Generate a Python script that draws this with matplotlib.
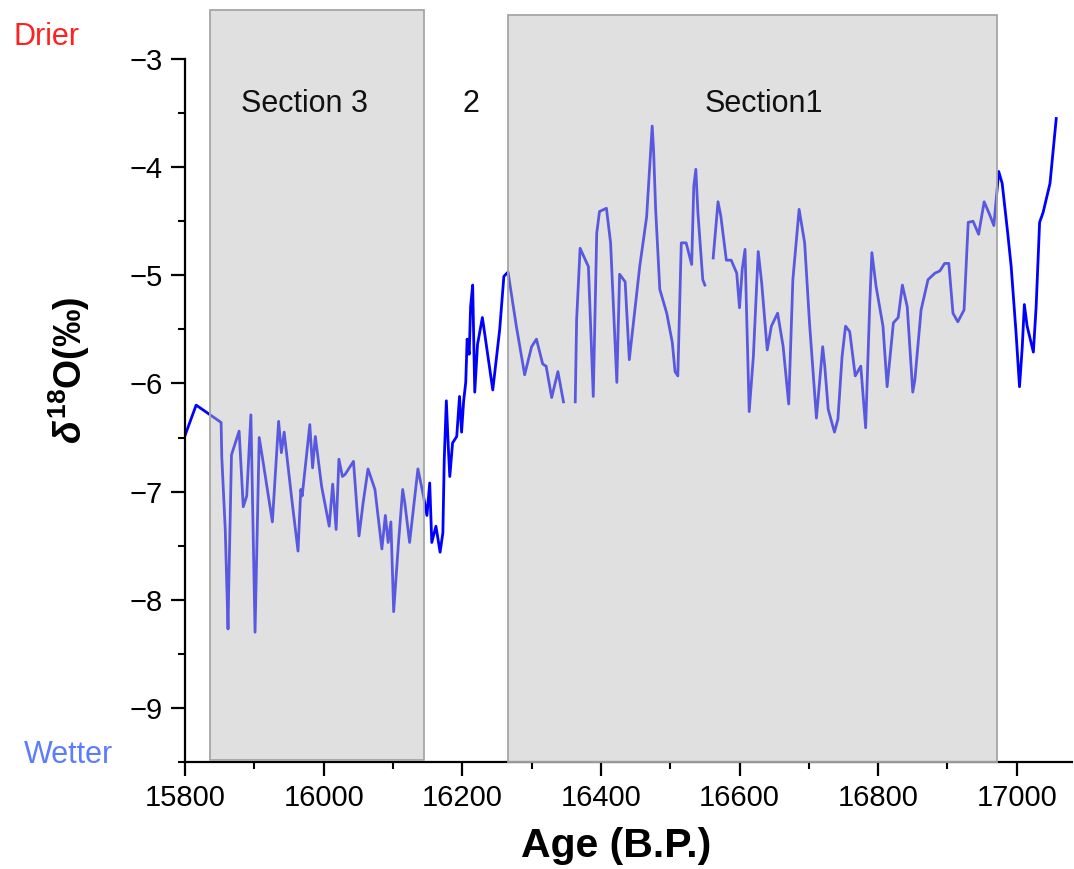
import matplotlib.pyplot as plt
from matplotlib.patches import Rectangle
import numpy as np

plt.rcParams['font.family'] = ['Liberation Sans', 'DejaVu Sans']
plt.rcParams['mathtext.fontset'] = 'custom'
plt.rcParams['mathtext.rm'] = 'Liberation Sans:bold'
plt.rcParams['mathtext.it'] = 'Liberation Sans:bold:italic'
plt.rcParams['mathtext.bf'] = 'Liberation Sans:bold'

##### data (NaN = gap in record) #####
age = [15800, 15816, 15852, 15853, 15858, 15862, 15863, 15867, 15878, 15884,
       15889, 15895, 15901, 15907, 15912, 15926, 15935, 15939, 15943, 15954,
       15963, 15967, 15969, 15980, 15984, 15988, 15997, 16008, 16013, 16018,
       16022, 16027, 16031, 16043, 16051, 16057, 16064, 16074, 16084, 16089,
       16093, 16097, 16101, 16108, 16114, 16117, 16124, 16136, 16144,
       16149, 16153, 16156, 16162, 16168, 16172, 16174, 16177, 16180, 16182,
       16186, 16192, 16196, 16199, 16202, 16205, 16207, 16210, 16212, 16215,
       16218, 16222, 16229, 16244, 16254, 16260, 16266,
       16278, 16290, 16300, 16307, 16316, 16321, 16329, 16338, 16346, 16355,
       16363, 16365, 16370, 16382, 16389, 16394, 16398, 16408, 16414, 16423,
       16427, 16435, 16441, 16456, 16466, 16474, 16476, 16479, 16485, 16495,
       16503, 16507, 16511, 16516, 16523, 16531, 16534, 16537, 16540, 16547,
       16550, 16556,
       16562, 16569, 16573, 16581, 16588, 16596, 16600, 16604, 16608, 16610,
       16614, 16620, 16627, 16632, 16640, 16646, 16655, 16663, 16671, 16677,
       16686, 16694, 16701, 16711, 16715, 16720, 16723, 16728, 16737, 16742,
       16748, 16753, 16759, 16767, 16775, 16782, 16788, 16791, 16797, 16807,
       16813, 16822, 16829, 16835, 16842, 16850, 16853, 16862, 16872, 16882,
       16889, 16896, 16902, 16908, 16915, 16924, 16930, 16937, 16945, 16953,
       16961, 16967, 16974, 16979, 16987, 16992, 16999, 17004, 17008, 17011,
       17015, 17024, 17028, 17033, 17038, 17048, 17057]
d18o = [-6.48, -6.20, -6.36, -6.68, -7.35, -8.27, -7.90, -6.66, -6.44, -7.14,
        -7.04, -6.29, -8.30, -6.50, -6.70, -7.28, -6.35, -6.64, -6.45, -7.07,
        -7.55, -6.98, -7.04, -6.38, -6.78, -6.49, -6.95, -7.32, -6.93, -7.35,
        -6.70, -6.86, -6.84, -6.72, -7.41, -7.10, -6.79, -6.98, -7.53, -7.22,
        -7.47, -7.28, -8.11, -7.47, -6.98, -7.10, -7.47, -6.79, -7.04,
        -7.22, -6.92, -7.47, -7.32, -7.56, -7.38, -6.70, -6.16, -6.61, -6.86,
        -6.55, -6.49, -6.12, -6.45, -6.16, -5.99, -5.59, -5.73, -5.29, -5.09,
        -6.08, -5.64, -5.39, -6.06, -5.50, -5.01, -4.97,
        -5.47, -5.92, -5.66, -5.59, -5.82, -5.84, -6.13, -5.89, -6.17, np.nan,
        -6.17, -5.41, -4.75, -4.92, -6.12, -4.61, -4.41, -4.38, -4.70, -5.99,
        -4.99, -5.06, -5.78, -4.92, -4.46, -3.62, -3.84, -4.39, -5.13, -5.35,
        -5.62, -5.89, -5.93, -4.70, -4.70, -4.90, -4.18, -4.02, -4.42, -5.04,
        -5.09, np.nan,
        -4.84, -4.32, -4.45, -4.86, -4.86, -4.98, -5.30, -4.94, -4.76, -5.29,
        -6.26, -5.75, -4.78, -5.07, -5.69, -5.47, -5.35, -5.66, -6.19, -5.04,
        -4.39, -4.70, -5.44, -6.32, -6.03, -5.66, -5.84, -6.24, -6.45, -6.33,
        -5.75, -5.47, -5.52, -5.93, -5.84, -6.41, -5.25, -4.79, -5.10, -5.47,
        -6.03, -5.44, -5.39, -5.09, -5.29, -6.08, -5.97, -5.32, -5.04, -4.98,
        -4.96, -4.89, -4.89, -5.35, -5.43, -5.32, -4.51, -4.50, -4.62, -4.32,
        -4.44, -4.54, -4.04, -4.15, -4.61, -4.92, -5.53, -6.03, -5.66, -5.27,
        -5.47, -5.71, -5.29, -4.51, -4.42, -4.15, -3.55]

section_names = ['Section 3', '2', 'Section1']
section_label_x = [15972, 16212, 16635]
shade_start = [15836, 16266]
shade_end = [16145, 16971]
shade_top = [-2.55, -2.59]
shade_bottom = [-9.48, -9.5]

fig = plt.figure(figsize=(10.74, 8.69), dpi=100)
ax = fig.add_axes([0.1723, 0.1231, 0.826, 0.809])

ax.plot(age, d18o, color='#0000ff', lw=2.0, zorder=2)

## shaded sections drawn over the line so it looks paler inside ##
for i in range(len(shade_start)):
    r = Rectangle((shade_start[i], shade_bottom[i]), shade_end[i] - shade_start[i],
                  shade_top[i] - shade_bottom[i], facecolor=(0.75, 0.75, 0.75, 0.47),
                  edgecolor='#a6a6a6', lw=1.3, clip_on=False, zorder=3)
    ax.add_patch(r)

for i in range(len(section_names)):
    ax.text(section_label_x[i], -3.42, section_names[i], fontsize=22,
            ha='center', va='center', color='#111111', zorder=5)

ax.set_xlim(15800, 17080)
ax.set_ylim(-9.5, -3)
ax.set_xticks(np.arange(15800, 17001, 200))
ax.set_xticks(np.arange(15900, 17080, 200), minor=True)
ax.set_yticks(np.arange(-9, -2.9, 1))
ax.set_yticks(np.arange(-9.5, -2.9, 0.5), minor=True)
ax.tick_params(which='major', direction='out', length=10, width=1.6, labelsize=21, pad=6)
ax.tick_params(which='minor', direction='out', length=5, width=1.5)

ax.spines['top'].set_visible(False)
ax.spines['right'].set_visible(False)
ax.spines['left'].set_linewidth(1.6)
ax.spines['bottom'].set_linewidth(1.6)

ax.set_xlabel('Age (B.P.)', fontsize=29.5, fontweight='bold')
ax.xaxis.set_label_coords(0.486, -0.093)
ax.set_ylabel(r'$\delta^{18}$O(‰)', fontsize=27, fontweight='bold')
ax.yaxis.set_label_coords(-0.105, 0.558)

fig.text(46 / 1074, 1 - 37 / 869, 'Drier', color='#ff2020', fontsize=22, ha='center', va='center')
fig.text(68 / 1074, 1 - 755 / 869, 'Wetter', color='#5b7cff', fontsize=22, ha='center', va='center')

plt.savefig('out.png', dpi=100)
